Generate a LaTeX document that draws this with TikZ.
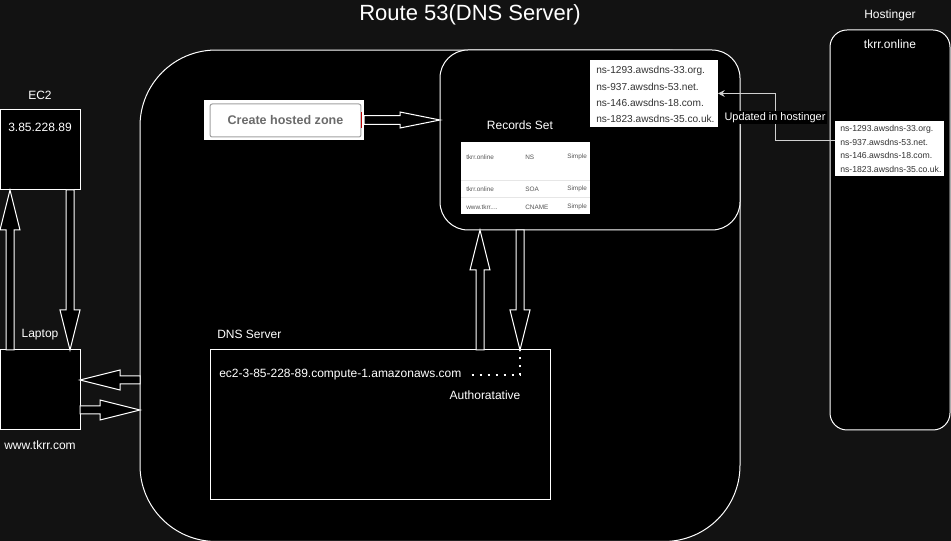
\documentclass[tikz,border=0pt]{standalone}
\usepackage{fontspec}
\setmainfont{Liberation Sans}
\usetikzlibrary{calc,arrows.meta}
\definecolor{bg}{HTML}{121212}
\definecolor{nsgray}{HTML}{333333}
\definecolor{tblgray}{HTML}{555555}
\definecolor{sepgray}{HTML}{E6E6E6}
\definecolor{btngray}{HTML}{6B6B6B}
\definecolor{btnborder}{HTML}{A0A0A0}
\definecolor{linkgray}{HTML}{D0D0D0}
\newcommand\blockarrow[5]{%
  \coordinate (bac) at ($(#2)!#5!(#1)$);
  \path[blockarr] ($(#1)!#3!90:(#2)$) -- ($(bac)!#3!90:(#2)$) -- ($(bac)!#4!90:(#2)$) -- (#2)
    -- ($(bac)!#4!-90:(#2)$) -- ($(bac)!#3!-90:(#2)$) -- ($(#1)!#3!-90:(#2)$) -- cycle;}
\begin{document}
\begin{tikzpicture}[x=0.75pt,y=-0.75pt,
  box/.style={draw=white, line width=0.75pt, fill=black, inner sep=0pt, outer sep=0pt},
  whitebox/.style={fill=white, draw=none, inner sep=0pt, outer sep=0pt},
  lbl/.style={text=white, font=\fontsize{9}{11}\selectfont, inner sep=0pt},
  blockarr/.style={draw=white, fill=black, line width=0.75pt, line join=miter},
  nstxt/.style={text=nsgray, font=\fontsize{7.6}{9}\selectfont, anchor=west, inner sep=0pt},
  hnstxt/.style={text=nsgray, font=\fontsize{6.5}{8}\selectfont, anchor=west, inner sep=0pt},
  tbltxt/.style={text=tblgray, font=\fontsize{4.8}{6}\selectfont, anchor=west, inner sep=0pt},
  link/.style={draw=linkgray, line width=0.75pt, -{Stealth[length=5pt,width=5pt]}},
  dotline/.style={draw=white, line width=1.5pt, dash pattern=on 1.5pt off 4.5pt}
]
\useasboundingbox (0,0) rectangle (951,541);
\fill[bg] (0,0) rectangle (951,541);
\clip (0,0) rectangle (951,541);

% title
\node[lbl, font=\fontsize{16.5}{19}\selectfont] (title) at (470,15) {Route 53(DNS Server)};

% big route 53 box
\node[box, rounded corners=57pt, minimum width=450pt, minimum height=368.6pt] (route53) at (440,295.75) {};

% records box
\node[box, rounded corners=21pt, minimum width=225pt, minimum height=135pt] (records) at (590,140) {};

% NS list in records box
\node[whitebox, minimum width=96pt, minimum height=50.25pt] (nslist) at (654,93.5) {};
\node[nstxt] (ns1) at (596,71) {ns-1293.awsdns-33.org.};
\node[nstxt] (ns2) at (596,87) {ns-937.awsdns-53.net.};
\node[nstxt] (ns3) at (596,103) {ns-146.awsdns-18.com.};
\node[nstxt] (ns4) at (596,119) {ns-1823.awsdns-35.co.uk.};

\node[lbl] (recset) at (520,125) {Records Set};

% records table
\node[whitebox, minimum width=96.75pt, minimum height=54pt] (table) at (525.5,178) {};
\draw[sepgray, line width=0.5pt] (table.west |- 0,180) -- (table.east |- 0,180);
\draw[sepgray, line width=0.5pt] (table.west |- 0,197) -- (table.east |- 0,197);
\node[tbltxt] (r1a) at (466,157) {tkrr.online};
\node[tbltxt] (r1b) at (525,157) {NS};
\node[tbltxt] (r1c) at (567,157) {Simple};
\node[tbltxt] (r2a) at (466,189) {tkrr.online};
\node[tbltxt] (r2b) at (525,189) {SOA};
\node[tbltxt] (r2c) at (567,189) {Simple};
\node[tbltxt] (r3a) at (466,207) {www.tkrr....};
\node[tbltxt] (r3b) at (525,207) {CNAME};
\node[tbltxt] (r3c) at (567,207) {Simple};

% create hosted zone
\node[whitebox, minimum width=120pt, minimum height=30pt] (chz) at (284,120) {};
\node[draw=btnborder, line width=0.75pt, fill=white, rounded corners=1.5pt, minimum width=113pt, minimum height=24.75pt, inner sep=0pt, text=btngray, font=\bfseries\fontsize{9.4}{11}\selectfont] (chzb) at (285.5,120.5) {Create hosted zone};
\draw[red!75!black, line width=0.75pt] ($(chzb.east)+(0,-8)$) -- ($(chzb.east)+(0,8)$);

% hostinger
\node[lbl] (hostlbl) at (890,15) {Hostinger};
\node[box, rounded corners=12.75pt, minimum width=90pt, minimum height=300pt] (hostinger) at (890,230) {};
\node[lbl] (tkrr) at (890,44) {tkrr.online};
\node[whitebox, minimum width=81.75pt, minimum height=41.25pt] (hnslist) at (889.5,148.5) {};
\node[hnstxt] (h1) at (840,129) {ns-1293.awsdns-33.org.};
\node[hnstxt] (h2) at (840,142) {ns-937.awsdns-53.net.};
\node[hnstxt] (h3) at (840,155.5) {ns-146.awsdns-18.com.};
\node[hnstxt] (h4) at (840,169) {ns-1823.awsdns-35.co.uk.};

\coordinate (hs) at ($(hnslist.west)+(0,-7.5)$);
\draw[link] (hs) -- ++(-60,0) |- node[pos=0.25, fill=black, text=white, inner sep=1pt, font=\fontsize{8.2}{10}\selectfont] (updlbl) {Updated in hostinger} (nslist.east);

% EC2 and laptop
\node[lbl] (ec2lbl) at (40,95) {EC2};
\node[box, minimum width=60pt, minimum height=60pt] (ec2) at (40,150) {};
\node[lbl] (ec2ip) at (40,127) {3.85.228.89};
\node[lbl] (laplbl) at (40,335) {Laptop};
\node[box, minimum width=60pt, minimum height=60pt] (laptop) at (40,390) {};
\node[lbl] (lapurl) at (40,445) {www.tkrr.com};

% DNS server
\node[lbl, anchor=west] (dnslbl) at (217,334) {DNS Server};
\node[box, minimum width=255pt, minimum height=112.5pt] (dnsbox) at (380,425) {};
\node[lbl, anchor=west] (ec2host) at (219,375) {ec2-3-85-228-89.compute-1.amazonaws.com};
\node[lbl] (auth) at (485,395) {Authoratative};

% arrow end points
\coordinate (upA) at ($(laptop.north west)+(10,0)$);
\coordinate (upB) at ($(ec2.south west)+(10,0)$);
\coordinate (dnA) at ($(ec2.south west)+(70,0)$);
\coordinate (dnB) at ($(laptop.north west)+(70,0)$);
\coordinate (lfA) at ($(route53.west |- laptop.east)+(0,-10)$);
\coordinate (lfB) at ($(laptop.east)+(0,-10)$);
\coordinate (rtA) at ($(laptop.east)+(0,20)$);
\coordinate (rtB) at ($(route53.west |- laptop.east)+(0,20)$);
\coordinate (czA) at (chz.east);
\coordinate (czB) at (chz.east -| records.west);
\coordinate (ruA) at ($(dnsbox.north -| records.west)+(40,0)$);
\coordinate (ruB) at ($(records.south west)+(40,0)$);
\coordinate (rdA) at ($(records.south west)+(80,0)$);
\coordinate (rdB) at ($(dnsbox.north -| records.west)+(80,0)$);

\blockarrow{upA}{upB}{3pt}{7.5pt}{30pt}
\blockarrow{dnA}{dnB}{3pt}{7.5pt}{30pt}
\blockarrow{lfA}{lfB}{3pt}{7.5pt}{30pt}
\blockarrow{rtA}{rtB}{3pt}{7.5pt}{30pt}
\blockarrow{czA}{czB}{3.3pt}{6pt}{30pt}
\blockarrow{ruA}{ruB}{3pt}{7.5pt}{30pt}
\blockarrow{rdA}{rdB}{3pt}{7.5pt}{30pt}

% dotted link
\draw[dotline] ($(ec2host.east)+(10,0)$) -| (rdB);
\end{tikzpicture}
\end{document}
